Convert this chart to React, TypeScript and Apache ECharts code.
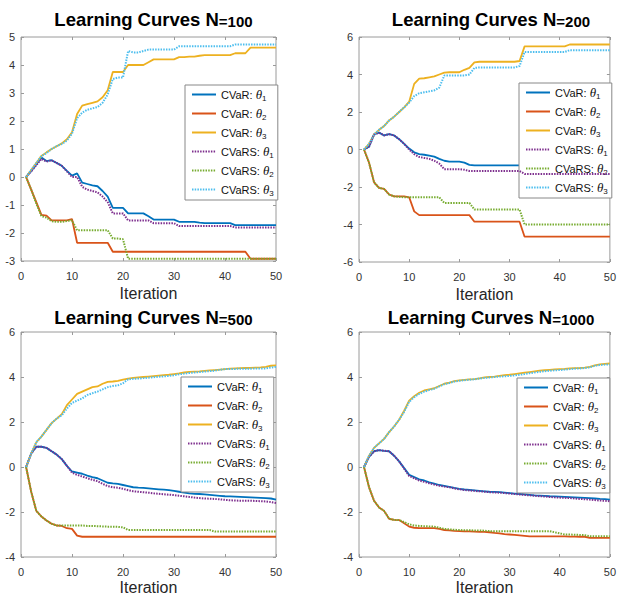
import React, { useEffect, useRef } from "react";
import * as echarts from "echarts";

const ITERATIONS: number[] = Array.from({ length: 50 }, (_, i) => i + 1);
const PANEL_N = ["100", "200", "500", "1000"];
const SERIES_NAMES = ["CVaR: θ1", "CVaR: θ2", "CVaR: θ3", "CVaRS: θ1", "CVaRS: θ2", "CVaRS: θ3"];
const COLORS = ["#0072BD", "#D95319", "#EDB120", "#7E2F8E", "#77AC30", "#4DBEEE"];
const Y_MIN = [-3, -6, -4, -4];
const Y_MAX = [5, 6, 6, 6];
const Y_STEP = [1, 2, 2, 2];
const X_TICKS_MAX = 50;
const X_TICKS_STEP = 10;

// ---------- N = 100 ----------
const N100_CVaR_T1 = [0, 0.22, 0.45, 0.7, 0.57, 0.6, 0.5, 0.4, 0.22, 0.05,
  0.13, -0.2, -0.25, -0.3, -0.33, -0.5, -0.7, -1.1, -1.1, -1.1,
  -1.3, -1.3, -1.3, -1.3, -1.4, -1.52, -1.52, -1.52, -1.52, -1.52,
  -1.6, -1.6, -1.6, -1.6, -1.63, -1.65, -1.65, -1.65, -1.65, -1.65,
  -1.65, -1.72, -1.72, -1.72, -1.72, -1.72, -1.72, -1.72, -1.72, -1.72];
const N100_CVaR_T2 = [0, -0.45, -0.9, -1.35, -1.38, -1.55, -1.55, -1.55, -1.55, -1.5,
  -2.35, -2.35, -2.35, -2.35, -2.35, -2.35, -2.35, -2.67, -2.67, -2.67,
  -2.67, -2.67, -2.67, -2.67, -2.67, -2.67, -2.67, -2.67, -2.67, -2.67,
  -2.67, -2.67, -2.67, -2.67, -2.67, -2.67, -2.67, -2.67, -2.67, -2.67,
  -2.67, -2.67, -2.67, -2.67, -2.92, -2.92, -2.92, -2.92, -2.92, -2.92];
const N100_CVaR_T3 = [0, 0.25, 0.5, 0.75, 0.88, 1.0, 1.1, 1.2, 1.35, 1.6,
  2.25, 2.55, 2.6, 2.65, 2.7, 2.85, 3.1, 3.75, 3.75, 3.75,
  4.0, 4.0, 4.0, 4.0, 4.1, 4.2, 4.2, 4.2, 4.2, 4.2,
  4.28, 4.28, 4.3, 4.3, 4.33, 4.35, 4.35, 4.35, 4.35, 4.35,
  4.35, 4.42, 4.42, 4.42, 4.62, 4.62, 4.62, 4.62, 4.62, 4.62];
const N100_CVaRS_T1 = [0, 0.2, 0.42, 0.65, 0.55, 0.6, 0.5, 0.4, 0.2, 0.0,
  0.0, -0.35, -0.45, -0.5, -0.55, -0.7, -0.9, -1.3, -1.3, -1.3,
  -1.55, -1.55, -1.55, -1.55, -1.55, -1.65, -1.65, -1.65, -1.65, -1.65,
  -1.75, -1.75, -1.75, -1.75, -1.75, -1.75, -1.75, -1.75, -1.75, -1.75,
  -1.75, -1.8, -1.8, -1.8, -1.8, -1.8, -1.8, -1.8, -1.8, -1.8];
const N100_CVaRS_T2 = [0, -0.45, -0.95, -1.4, -1.45, -1.58, -1.6, -1.6, -1.57, -1.55,
  -1.9, -1.9, -1.9, -1.9, -1.9, -1.9, -1.9, -2.2, -2.2, -2.22,
  -2.92, -2.92, -2.92, -2.92, -2.92, -2.92, -2.92, -2.92, -2.92, -2.92,
  -2.92, -2.92, -2.92, -2.92, -2.92, -2.92, -2.92, -2.92, -2.92, -2.92,
  -2.92, -2.92, -2.92, -2.92, -2.92, -2.92, -2.92, -2.92, -2.92, -2.92];
const N100_CVaRS_T3 = [0, 0.25, 0.5, 0.75, 0.85, 1.0, 1.1, 1.18, 1.3, 1.55,
  2.1, 2.3, 2.4, 2.45, 2.5, 2.65, 2.95, 3.5, 3.55, 3.55,
  4.5, 4.45, 4.45, 4.5, 4.55, 4.55, 4.55, 4.55, 4.55, 4.55,
  4.67, 4.67, 4.67, 4.67, 4.67, 4.67, 4.67, 4.67, 4.67, 4.67,
  4.67, 4.73, 4.73, 4.73, 4.73, 4.73, 4.73, 4.73, 4.73, 4.73];

// ---------- N = 200 ----------
const N200_CVaR_T1 = [0, 0.15, 0.8, 0.9, 0.75, 0.82, 0.75, 0.55, 0.3, 0.05,
  -0.15, -0.25, -0.28, -0.33, -0.38, -0.5, -0.6, -0.65, -0.65, -0.65,
  -0.7, -0.82, -0.85, -0.85, -0.85, -0.85, -0.85, -0.85, -0.85, -0.85,
  -0.85, -0.85, -1.0, -1.0, -1.0, -1.0, -1.0, -1.0, -1.0, -1.0,
  -1.0, -1.0, -1.0, -1.0, -1.0, -1.0, -1.0, -1.0, -1.0, -1.0];
const N200_CVaR_T2 = [0, -0.7, -1.75, -2.05, -2.1, -2.4, -2.5, -2.5, -2.5, -2.55,
  -3.3, -3.5, -3.5, -3.5, -3.5, -3.5, -3.5, -3.5, -3.5, -3.5,
  -3.5, -3.5, -3.85, -3.85, -3.85, -3.85, -3.85, -3.85, -3.85, -3.85,
  -3.85, -3.85, -4.65, -4.65, -4.65, -4.65, -4.65, -4.65, -4.65, -4.65,
  -4.65, -4.65, -4.65, -4.65, -4.65, -4.65, -4.65, -4.65, -4.65, -4.65];
const N200_CVaR_T3 = [0, 0.3, 0.8, 1.05, 1.25, 1.55, 1.75, 2.0, 2.25, 2.55,
  3.5, 3.78, 3.8, 3.85, 3.9, 4.0, 4.1, 4.12, 4.12, 4.12,
  4.25, 4.35, 4.65, 4.68, 4.68, 4.68, 4.68, 4.68, 4.68, 4.68,
  4.68, 4.72, 5.5, 5.5, 5.5, 5.5, 5.5, 5.5, 5.5, 5.5,
  5.5, 5.6, 5.6, 5.6, 5.6, 5.6, 5.6, 5.6, 5.6, 5.6];
const N200_CVaRS_T1 = [0, 0.15, 0.8, 0.9, 0.75, 0.82, 0.75, 0.55, 0.3, 0.0,
  -0.25, -0.4, -0.45, -0.5, -0.6, -0.75, -1.05, -1.05, -1.05, -1.05,
  -1.08, -1.15, -1.15, -1.15, -1.15, -1.15, -1.15, -1.15, -1.15, -1.15,
  -1.15, -1.15, -1.3, -1.3, -1.3, -1.3, -1.3, -1.3, -1.3, -1.3,
  -1.3, -1.3, -1.3, -1.3, -1.3, -1.3, -1.3, -1.3, -1.3, -1.3];
const N200_CVaRS_T2 = [0, -0.7, -1.75, -2.05, -2.1, -2.4, -2.5, -2.52, -2.55, -2.55,
  -2.55, -2.55, -2.55, -2.55, -2.55, -2.55, -2.85, -2.85, -2.85, -2.85,
  -2.85, -2.85, -3.2, -3.2, -3.2, -3.2, -3.2, -3.2, -3.2, -3.2,
  -3.2, -3.2, -4.0, -4.0, -4.0, -4.0, -4.0, -4.0, -4.0, -4.0,
  -4.0, -4.0, -4.0, -4.0, -4.0, -4.0, -4.0, -4.0, -4.0, -4.0];
const N200_CVaRS_T3 = [0, 0.3, 0.8, 1.05, 1.25, 1.55, 1.75, 2.0, 2.25, 2.5,
  2.85, 3.0, 3.05, 3.1, 3.15, 3.3, 3.95, 3.95, 3.95, 3.95,
  3.95, 4.0, 4.35, 4.38, 4.38, 4.38, 4.38, 4.38, 4.38, 4.38,
  4.38, 4.45, 5.2, 5.2, 5.2, 5.2, 5.2, 5.2, 5.2, 5.2,
  5.2, 5.3, 5.3, 5.3, 5.3, 5.3, 5.3, 5.3, 5.3, 5.3];

// ---------- N = 500 ----------
const N500_CVaR_T1 = [0, 0.6, 0.9, 0.9, 0.85, 0.7, 0.55, 0.35, 0.05, -0.2,
  -0.25, -0.3, -0.38, -0.45, -0.5, -0.6, -0.7, -0.73, -0.75, -0.8,
  -0.85, -0.9, -0.92, -0.93, -0.95, -0.97, -0.99, -1.01, -1.03, -1.06,
  -1.1, -1.14, -1.17, -1.19, -1.2, -1.22, -1.24, -1.26, -1.28, -1.3,
  -1.31, -1.32, -1.33, -1.34, -1.35, -1.36, -1.37, -1.38, -1.4, -1.45];
const N500_CVaR_T2 = [0, -1.1, -1.95, -2.2, -2.38, -2.52, -2.6, -2.62, -2.72, -2.75,
  -3.05, -3.1, -3.1, -3.1, -3.1, -3.1, -3.1, -3.1, -3.1, -3.1,
  -3.1, -3.1, -3.1, -3.1, -3.1, -3.1, -3.1, -3.1, -3.1, -3.1,
  -3.1, -3.1, -3.1, -3.1, -3.1, -3.1, -3.1, -3.1, -3.1, -3.1,
  -3.1, -3.1, -3.1, -3.1, -3.1, -3.1, -3.1, -3.1, -3.1, -3.1];
const N500_CVaR_T3 = [0, 0.6, 1.1, 1.35, 1.65, 1.95, 2.15, 2.35, 2.75, 3.0,
  3.25, 3.35, 3.45, 3.55, 3.58, 3.7, 3.78, 3.8, 3.83, 3.88,
  3.93, 3.96, 3.98, 4.0, 4.02, 4.04, 4.06, 4.08, 4.1, 4.13,
  4.16, 4.2, 4.23, 4.24, 4.25, 4.27, 4.29, 4.31, 4.33, 4.35,
  4.37, 4.38, 4.39, 4.4, 4.41, 4.42, 4.43, 4.45, 4.5, 4.52];
const N500_CVaRS_T1 = [0, 0.6, 0.9, 0.9, 0.85, 0.7, 0.55, 0.35, 0.05, -0.25,
  -0.35, -0.42, -0.5, -0.57, -0.63, -0.75, -0.85, -0.9, -0.92, -0.97,
  -1.03, -1.08, -1.1, -1.12, -1.14, -1.17, -1.19, -1.21, -1.23, -1.25,
  -1.28, -1.3, -1.33, -1.36, -1.38, -1.4, -1.41, -1.42, -1.44, -1.46,
  -1.48, -1.49, -1.5, -1.5, -1.5, -1.51, -1.52, -1.53, -1.56, -1.6];
const N500_CVaRS_T2 = [0, -1.1, -1.95, -2.2, -2.38, -2.52, -2.6, -2.6, -2.6, -2.6,
  -2.6, -2.6, -2.62, -2.62, -2.63, -2.64, -2.65, -2.65, -2.66, -2.68,
  -2.8, -2.8, -2.8, -2.8, -2.8, -2.8, -2.8, -2.8, -2.8, -2.8,
  -2.8, -2.8, -2.8, -2.8, -2.8, -2.8, -2.8, -2.87, -2.87, -2.87,
  -2.87, -2.87, -2.87, -2.87, -2.87, -2.87, -2.87, -2.87, -2.87, -2.87];
const N500_CVaRS_T3 = [0, 0.6, 1.1, 1.35, 1.65, 1.95, 2.15, 2.3, 2.6, 2.85,
  2.95, 3.05, 3.2, 3.28, 3.35, 3.45, 3.55, 3.6, 3.63, 3.72,
  3.9, 3.92, 3.93, 3.95, 3.97, 3.99, 4.01, 4.03, 4.05, 4.08,
  4.12, 4.15, 4.18, 4.2, 4.22, 4.24, 4.26, 4.28, 4.32, 4.35,
  4.36, 4.36, 4.37, 4.37, 4.37, 4.38, 4.38, 4.38, 4.42, 4.45];

// ---------- N = 1000 ----------
const N1000_CVaR_T1 = [0, 0.45, 0.7, 0.75, 0.72, 0.7, 0.5, 0.25, -0.05, -0.35,
  -0.45, -0.55, -0.6, -0.68, -0.74, -0.8, -0.84, -0.88, -0.93, -0.97,
  -1.0, -1.02, -1.04, -1.06, -1.08, -1.1, -1.11, -1.12, -1.14, -1.16,
  -1.18, -1.2, -1.22, -1.24, -1.26, -1.27, -1.28, -1.3, -1.31, -1.32,
  -1.33, -1.34, -1.35, -1.36, -1.37, -1.38, -1.4, -1.42, -1.43, -1.45];
const N1000_CVaR_T2 = [0, -0.9, -1.5, -1.8, -1.95, -2.3, -2.35, -2.36, -2.5, -2.65,
  -2.7, -2.72, -2.72, -2.72, -2.72, -2.75, -2.8, -2.82, -2.84, -2.85,
  -2.86, -2.86, -2.87, -2.88, -2.88, -2.9, -2.93, -2.95, -2.98, -3.0,
  -3.02, -3.04, -3.06, -3.08, -3.08, -3.08, -3.08, -3.08, -3.08, -3.08,
  -3.08, -3.09, -3.09, -3.1, -3.1, -3.15, -3.15, -3.15, -3.15, -3.15];
const N1000_CVaR_T3 = [0, 0.5, 0.85, 1.05, 1.25, 1.55, 1.8, 2.1, 2.5, 2.95,
  3.15, 3.3, 3.4, 3.45, 3.5, 3.6, 3.7, 3.75, 3.82, 3.85,
  3.87, 3.89, 3.91, 3.94, 3.98, 4.0, 4.02, 4.05, 4.08, 4.1,
  4.13, 4.16, 4.19, 4.22, 4.25, 4.28, 4.3, 4.32, 4.34, 4.35,
  4.36, 4.38, 4.39, 4.4, 4.42, 4.45, 4.52, 4.56, 4.58, 4.6];
const N1000_CVaRS_T1 = [0, 0.45, 0.7, 0.75, 0.72, 0.7, 0.5, 0.25, -0.07, -0.4,
  -0.5, -0.6, -0.66, -0.72, -0.78, -0.83, -0.87, -0.9, -0.95, -0.99,
  -1.02, -1.04, -1.06, -1.08, -1.1, -1.12, -1.13, -1.14, -1.16, -1.18,
  -1.2, -1.22, -1.24, -1.26, -1.28, -1.3, -1.31, -1.33, -1.35, -1.36,
  -1.37, -1.38, -1.4, -1.42, -1.43, -1.45, -1.47, -1.49, -1.5, -1.52];
const N1000_CVaRS_T2 = [0, -0.9, -1.5, -1.8, -1.95, -2.3, -2.35, -2.36, -2.45, -2.55,
  -2.6, -2.62, -2.63, -2.64, -2.65, -2.7, -2.75, -2.77, -2.79, -2.8,
  -2.81, -2.81, -2.82, -2.82, -2.83, -2.85, -2.85, -2.85, -2.85, -2.85,
  -2.85, -2.85, -2.85, -2.85, -2.85, -2.85, -2.85, -2.85, -2.9, -2.95,
  -3.0, -3.0, -3.01, -3.02, -3.03, -3.08, -3.08, -3.08, -3.08, -3.08];
const N1000_CVaRS_T3 = [0, 0.5, 0.85, 1.05, 1.25, 1.55, 1.8, 2.1, 2.45, 2.9,
  3.1, 3.25, 3.35, 3.42, 3.48, 3.58, 3.68, 3.73, 3.8, 3.83,
  3.86, 3.88, 3.9, 3.93, 3.96, 3.98, 4.0, 4.02, 4.03, 4.05,
  4.07, 4.1, 4.13, 4.17, 4.2, 4.23, 4.26, 4.28, 4.3, 4.31,
  4.33, 4.35, 4.37, 4.38, 4.4, 4.43, 4.5, 4.53, 4.55, 4.56];

const PANEL_DATA = [
  [N100_CVaR_T1, N100_CVaR_T2, N100_CVaR_T3, N100_CVaRS_T1, N100_CVaRS_T2, N100_CVaRS_T3],
  [N200_CVaR_T1, N200_CVaR_T2, N200_CVaR_T3, N200_CVaRS_T1, N200_CVaRS_T2, N200_CVaRS_T3],
  [N500_CVaR_T1, N500_CVaR_T2, N500_CVaR_T3, N500_CVaRS_T1, N500_CVaRS_T2, N500_CVaRS_T3],
  [N1000_CVaR_T1, N1000_CVaR_T2, N1000_CVaR_T3, N1000_CVaRS_T1, N1000_CVaRS_T2, N1000_CVaRS_T3],
];

// layout (pixels)
const GRIDS = [
  { left: 21, top: 37, width: 255, height: 224 },
  { left: 359, top: 37, width: 254, height: 225 },
  { left: 21, top: 332, width: 255, height: 225 },
  { left: 359, top: 332, width: 254, height: 225 },
];
const LEGEND_POS = [
  { left: 185, top: 85 },
  { left: 519, top: 83 },
  { left: 181, top: 377 },
  { left: 517, top: 378 },
];
const TITLE_TOP = [5, 5, 303, 303];

const FONT = "'Liberation Sans', Arial, Helvetica, sans-serif";
const FRAME = "#9a9a9a";
const LABEL = "#333333";

export default function App() {
  const ref = useRef<HTMLDivElement>(null);
  useEffect(() => {
    if (!ref.current) return;
    const chart = echarts.init(ref.current, undefined, { renderer: "svg" });

    const grid: any[] = [];
    const xAxis: any[] = [];
    const yAxis: any[] = [];
    const series: any[] = [];
    const title: any[] = [];
    const legend: any[] = [];

    GRIDS.forEach((g, p) => {
      grid.push({ ...g, show: true, borderColor: FRAME, borderWidth: 1, backgroundColor: "#fff" });
      title.push({
        text: `{a|Learning Curves N}{b|=${PANEL_N[p]}}`,
        left: g.left + g.width / 2,
        top: TITLE_TOP[p],
        textAlign: "center",
        textStyle: {
          rich: {
            a: { fontFamily: FONT, fontWeight: "bold", fontSize: 18.5, color: "#000" },
            b: { fontFamily: FONT, fontWeight: "bold", fontSize: 15, color: "#000", padding: [3, 0, 0, 0] },
          },
        },
      });
      legend.push({
        orient: "vertical",
        left: LEGEND_POS[p].left,
        top: LEGEND_POS[p].top,
        data: SERIES_NAMES,
        selectedMode: false,
        backgroundColor: "#fff",
        borderColor: "#888",
        borderWidth: 1,
        borderRadius: 0,
        padding: [3, 4, 3, 6],
        itemWidth: 24,
        itemHeight: 12,
        itemGap: 5,
        itemStyle: { opacity: 0 },
        formatter: (name: string) => {
          const [lab, th] = name.split(": ");
          return `{n|${lab}: }{t|θ}{s|${th.slice(1)}}`;
        },
        textStyle: {
          rich: {
            n: { fontFamily: FONT, fontSize: 11, color: "#111" },
            t: { fontFamily: "'Liberation Serif', 'DejaVu Serif', serif", fontStyle: "italic", fontSize: 13, color: "#111" },
            s: { fontFamily: FONT, fontSize: 8, color: "#111", padding: [7, 0, 0, 0] },
          },
        },
      });
    });

    // bottom / top x axes
    for (let side = 0; side < 2; side++) {
      GRIDS.forEach((_, p) => {
        xAxis.push({
          type: "value",
          gridIndex: p,
          position: side === 0 ? "bottom" : "top",
          min: 0,
          max: X_TICKS_MAX,
          interval: X_TICKS_STEP,
          name: side === 0 ? "Iteration" : "",
          nameLocation: "middle",
          nameGap: p < 2 ? 24 : 22,
          nameTextStyle: { fontFamily: FONT, fontSize: 16, color: "#262626" },
          axisLine: { show: false, onZero: false },
          axisTick: { show: true, inside: true, length: 3, lineStyle: { color: FRAME } },
          axisLabel: { show: side === 0, fontFamily: FONT, fontSize: 11, color: LABEL, margin: 9 },
          splitLine: { show: false },
        });
      });
    }
    for (let side = 0; side < 2; side++) {
      GRIDS.forEach((_, p) => {
        yAxis.push({
          type: "value",
          gridIndex: p,
          position: side === 0 ? "left" : "right",
          min: Y_MIN[p],
          max: Y_MAX[p],
          interval: Y_STEP[p],
          axisLine: { show: false, onZero: false },
          axisTick: { show: true, inside: true, length: 3, lineStyle: { color: FRAME } },
          axisLabel: { show: side === 0, fontFamily: FONT, fontSize: 11, color: LABEL, margin: 6 },
          splitLine: { show: false },
        });
      });
    }

    PANEL_DATA.forEach((panel, p) => {
      panel.forEach((vals, s) => {
        const dotted = s >= 3;
        series.push({
          type: "line",
          name: SERIES_NAMES[s],
          xAxisIndex: p,
          yAxisIndex: p,
          data: ITERATIONS.map((it, i) => [it, vals[i]]),
          symbol: "none",
          showSymbol: false,
          lineStyle: {
            color: COLORS[s],
            width: dotted ? 2 : 1.8,
            type: dotted ? [1.5, 1.2] : "solid",
          },
          itemStyle: { color: COLORS[s] },
          z: 2 + s,
        });
      });
    });

    chart.setOption({
      animation: false,
      backgroundColor: "#fff",
      textStyle: { fontFamily: FONT },
      title,
      legend,
      grid,
      xAxis,
      yAxis,
      series,
    });
    return () => chart.dispose();
  }, []);
  return (
    <div
      ref={ref}
      style={{ position: "fixed", left: 0, top: 0, width: 619, height: 598, background: "#fff" }}
    />
  );
}
